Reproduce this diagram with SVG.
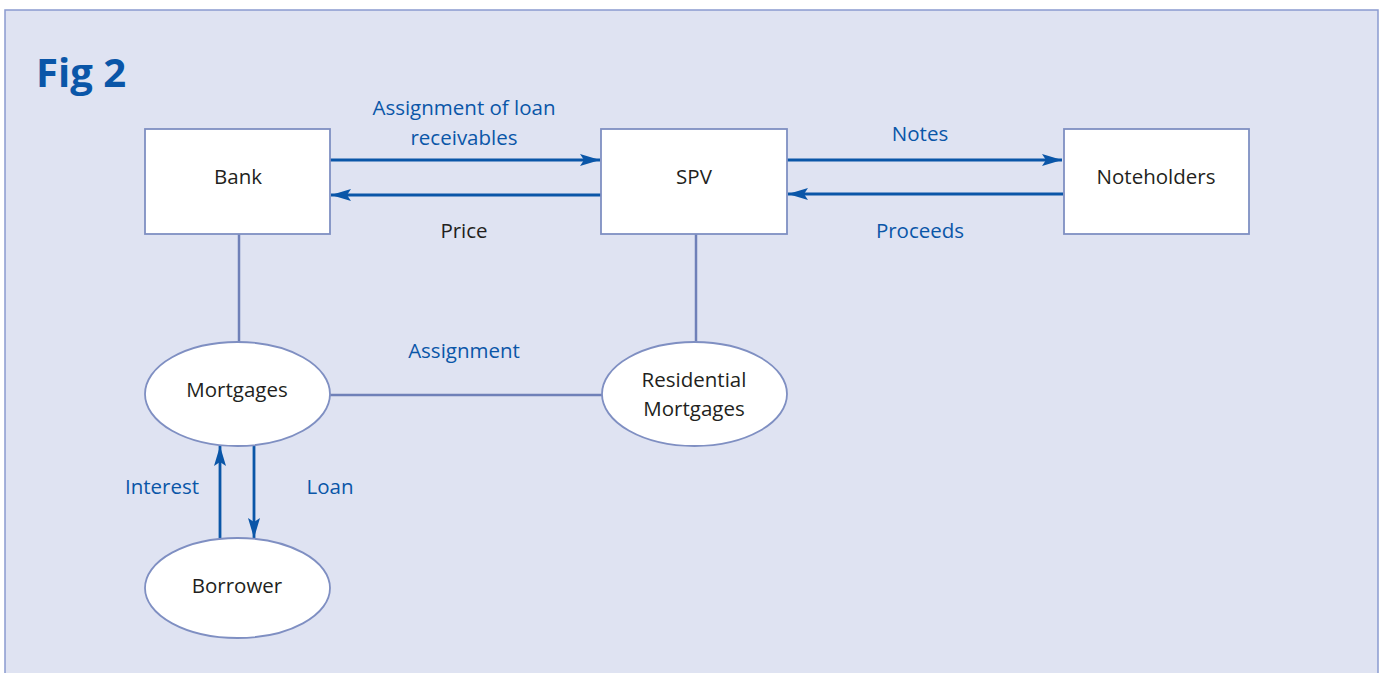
<svg xmlns="http://www.w3.org/2000/svg" width="1379" height="673" viewBox="0 0 1379 673">
<defs>
<style>
.box{fill:#ffffff;stroke:#7f8fc2;stroke-width:1.8}
.lnk{stroke:#6f80b8;stroke-width:2.5;fill:none}
.arr{stroke:#0a56a8;stroke-width:2.8;fill:none}
.t{font-family:"Open Sans","Noto Sans",sans-serif;font-size:20.5px;text-anchor:middle;fill:#231f20}
.b{font-family:"Open Sans","Noto Sans",sans-serif;font-size:20.5px;text-anchor:middle;fill:#0a56a8}
</style>
<marker id="a2" viewBox="0 0 20 12" refX="20" refY="6" markerWidth="20" markerHeight="12" markerUnits="userSpaceOnUse" orient="auto">
<path d="M0,0 L20,6 L0,12 L4,6 Z" fill="#0a56a8"/>
</marker>
</defs>
<rect x="5" y="10" width="1373" height="700" fill="#dfe3f2" stroke="#8a9bd0" stroke-width="1.5"/>
<text x="36" y="87" style="font-family:'Open Sans','Noto Sans',sans-serif;font-weight:bold;font-size:40px;fill:#0a56a8">Fig 2</text>
<g id="connectors">
<line class="lnk" x1="239" y1="234" x2="239" y2="342"/>
<line class="lnk" x1="696" y1="234" x2="696" y2="342"/>
<line class="lnk" x1="330" y1="395" x2="602" y2="395"/>
<line class="arr" x1="330" y1="160" x2="600" y2="160" marker-end="url(#a2)"/>
<line class="arr" x1="601" y1="195" x2="331" y2="195" marker-end="url(#a2)"/>
<line class="arr" x1="787" y1="160" x2="1062" y2="160" marker-end="url(#a2)"/>
<line class="arr" x1="1063" y1="194" x2="788" y2="194" marker-end="url(#a2)"/>
<line class="arr" x1="220" y1="538" x2="220" y2="446" marker-end="url(#a2)"/>
<line class="arr" x1="254" y1="446" x2="254" y2="538" marker-end="url(#a2)"/>
<text class="b" x="464" y="115">Assignment of loan</text>
<text class="b" x="464" y="145">receivables</text>
<text class="t" x="464" y="238">Price</text>
<text class="b" x="920" y="141">Notes</text>
<text class="b" x="920" y="238">Proceeds</text>
<text class="b" x="464" y="358">Assignment</text>
<text class="b" x="162" y="494">Interest</text>
<text class="b" x="330" y="494">Loan</text>
</g>
<g id="bank"><rect class="box" x="145" y="129" width="185" height="105"/><text class="t" x="238" y="184">Bank</text></g>
<g id="spv"><rect class="box" x="601" y="129" width="186" height="105"/><text class="t" x="694" y="184">SPV</text></g>
<g id="noteholders"><rect class="box" x="1064" y="129" width="185" height="105"/><text class="t" x="1156" y="184">Noteholders</text></g>
<g id="mortgages"><ellipse class="box" cx="237.5" cy="394" rx="92.5" ry="52"/><text class="t" x="237" y="397">Mortgages</text></g>
<g id="residential"><ellipse class="box" cx="694.5" cy="394" rx="92.5" ry="52"/><text class="t" x="694" y="387">Residential</text><text class="t" x="694" y="416">Mortgages</text></g>
<g id="borrower"><ellipse class="box" cx="237.5" cy="588" rx="92.5" ry="50"/><text class="t" x="237" y="593">Borrower</text></g>
</svg>
